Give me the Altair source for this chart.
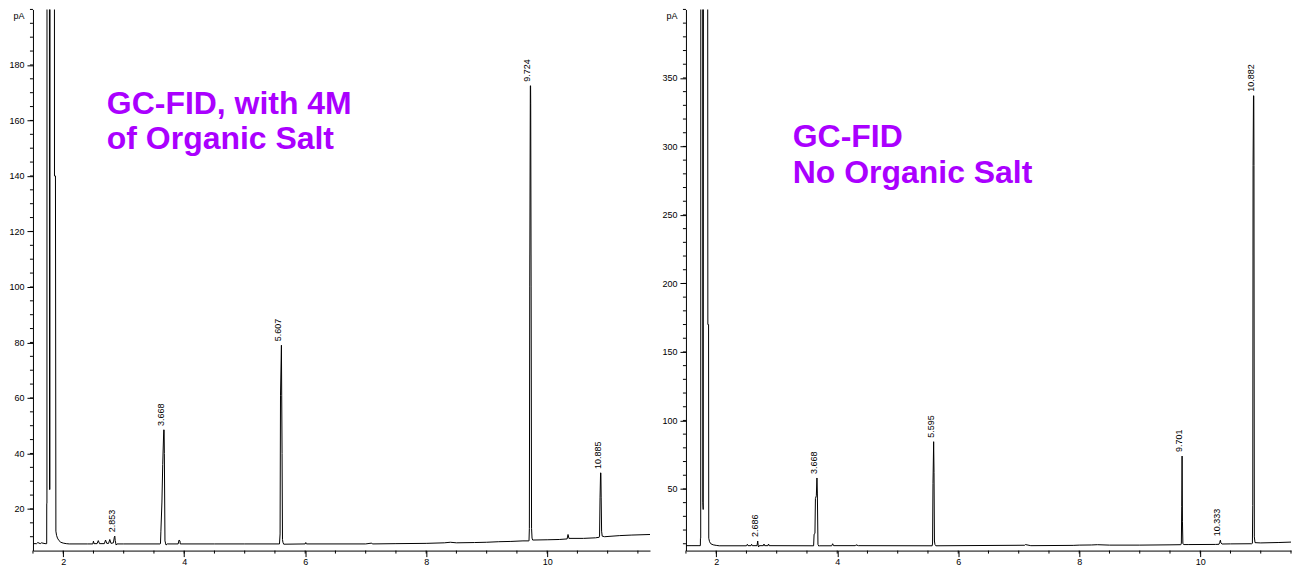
import altair as alt
import pandas as pd

# ---------------- Left chromatogram: GC-FID with 4M organic salt ----------------
L_TIME = [1.50, 1.56, 1.58, 1.62, 1.64, 1.70, 1.727, 1.728, 1.731, 1.733, 1.770, 1.774, 1.780, 1.785,
          1.852, 1.856, 1.872, 1.879, 1.890, 1.905, 1.930, 1.960, 2.000, 2.050, 2.100,
          2.400, 2.490, 2.500, 2.510, 2.560, 2.580, 2.600, 2.680, 2.700, 2.720, 2.750, 2.770, 2.790,
          2.830, 2.845, 2.853, 2.860, 2.875, 2.890, 3.000,
          3.600, 3.608, 3.615, 3.632, 3.645, 3.662, 3.668, 3.672, 3.682, 3.700, 3.720,
          3.900, 3.915, 3.930, 3.935, 4.500, 5.000,
          5.575, 5.585, 5.592, 5.607, 5.612, 5.618, 5.625, 5.632, 5.645,
          6.000, 6.010, 6.020, 7.000, 7.100, 7.110, 7.500, 8.000, 8.300, 8.400, 8.500, 8.800,
          9.000, 9.200, 9.400, 9.600, 9.690,
          9.700, 9.706, 9.712, 9.722, 9.726, 9.728, 9.735, 9.742, 9.750, 9.760,
          10.000, 10.200, 10.330, 10.345, 10.360, 10.600, 10.800, 10.860,
          10.866, 10.874, 10.883, 10.888, 10.893, 10.900, 10.910, 10.950,
          11.200, 11.400, 11.700]
L_PA = [7.5, 7.5, 7.9, 7.5, 7.8, 7.5, 7.5, 22.0, 22.0, 400.0, 400.0, 27.0, 27.0, 400.0,
        400.0, 140.0, 140.0, 12.0, 10.5, 9.5, 8.6, 8.0, 7.7, 7.5, 7.4,
        7.4, 7.4, 8.4, 7.5, 7.5, 8.6, 7.5, 7.5, 8.8, 7.6, 7.6, 9.0, 7.6,
        7.8, 9.8, 10.2, 8.6, 7.0, 7.4, 7.4,
        7.4, 7.5, 12.0, 22.5, 36.0, 48.5, 48.5, 40.0, 8.5, 7.0, 7.4,
        7.4, 8.8, 8.5, 7.4, 7.4, 7.4,
        7.4, 11.0, 61.0, 79.0, 61.0, 40.0, 9.0, 8.0, 7.3,
        7.4, 7.9, 7.4, 7.4, 7.7, 7.4, 7.5, 7.6, 7.8, 8.0, 7.8, 7.9,
        8.0, 8.2, 8.3, 8.5, 8.5,
        8.5, 13.0, 100.0, 172.5, 172.5, 166.0, 100.0, 13.0, 9.5, 8.8,
        8.9, 9.0, 9.2, 10.8, 9.4, 9.4, 9.6, 9.8,
        10.2, 24.0, 33.0, 33.0, 24.0, 12.0, 10.2, 10.0,
        10.4, 10.6, 10.8]
L_PEAK_TIME = [2.853, 3.668, 5.607, 9.724, 10.885]
L_PEAK_PA = [10.2, 48.5, 79.0, 172.5, 33.0]
L_PEAK_LABEL = ["2.853", "3.668", "5.607", "9.724", "10.885"]
L_TITLE = ["GC-FID, with 4M", "of Organic Salt"]

# ---------------- Right chromatogram: GC-FID, no organic salt ----------------
R_TIME = [1.50, 1.600, 1.700, 1.738, 1.740, 1.744, 1.746, 1.776, 1.779, 1.785, 1.790,
          1.858, 1.862, 1.874, 1.877, 1.890, 1.910, 1.950, 2.000, 2.050,
          2.500, 2.515, 2.525, 2.575, 2.585, 2.595, 2.675, 2.686, 2.695, 2.700, 2.710,
          2.780, 2.790, 2.800, 2.855, 2.865, 2.875,
          3.610, 3.618, 3.632, 3.640, 3.655, 3.665, 3.672, 3.682, 3.695, 3.710,
          3.910, 3.925, 3.940, 4.300, 4.310, 4.350,
          5.570, 5.576, 5.583, 5.594, 5.600, 5.607, 5.615, 5.630,
          7.100, 7.110, 7.200, 7.900, 8.000, 8.200, 8.300, 8.500, 9.000, 9.500, 9.670,
          9.680, 9.688, 9.694, 9.700, 9.706, 9.713, 9.730, 9.800, 10.250,
          10.310, 10.322, 10.333, 10.342, 10.360, 10.500, 10.850,
          10.862, 10.868, 10.873, 10.880, 10.885, 10.888, 10.894, 10.905,
          11.000, 11.300, 11.500, 11.650]
R_PA = [8.6, 8.6, 8.6, 8.6, 14.0, 14.0, 600.0, 600.0, 40.0, 35.0, 600.0,
        600.0, 170.0, 170.0, 14.0, 11.5, 10.0, 9.2, 8.8, 8.5,
        8.5, 9.6, 8.6, 8.6, 9.6, 8.6, 8.6, 12.0, 8.5, 7.6, 8.6,
        8.6, 9.8, 8.6, 8.6, 9.8, 8.6,
        8.5, 17.0, 17.5, 43.0, 45.0, 58.0, 47.0, 9.5, 8.3, 8.5,
        8.5, 10.0, 8.6, 8.6, 9.2, 8.6,
        8.5, 10.5, 54.0, 84.5, 62.0, 12.0, 9.5, 8.5,
        8.9, 9.4, 8.6, 8.8, 9.0, 9.1, 9.3, 9.0, 9.0, 9.2, 9.3,
        9.3, 10.5, 37.0, 74.0, 26.0, 10.0, 9.4, 9.4, 9.5,
        9.6, 11.0, 12.6, 10.5, 9.8, 9.9, 10.0,
        10.3, 38.0, 286.0, 337.0, 337.0, 286.0, 15.0, 10.8,
        10.6, 10.9, 11.2, 11.3]
R_PEAK_TIME = [2.686, 3.668, 5.595, 9.701, 10.333, 10.882]
R_PEAK_PA = [12.0, 58.0, 84.5, 74.0, 12.6, 337.0]
R_PEAK_LABEL = ["2.686", "3.668", "5.595", "9.701", "10.333", "10.882"]
R_TITLE = ["GC-FID", "No Organic Salt"]

# axis ticks
X_MAJOR = [2, 4, 6, 8, 10]
X_MINOR = [1.5 + 0.5 * i for i in range(21)]
Y_MAJOR_L = [20, 40, 60, 80, 100, 120, 140, 160, 180]
Y_MINOR_L = list(range(10, 205, 5))
Y_MAJOR_R = [50, 100, 150, 200, 250, 300, 350]
Y_MINOR_R = list(range(10, 410, 10))

PURPLE = "#AA00FF"
FONT = "Liberation Sans"
H = 542


def panel(times, pa, pk_t, pk_h, pk_lab, titles, title_pos, xdom, ydom,
          ymajor, yminor, width):
    df = pd.DataFrame({"t": times, "pa": pa, "i": list(range(len(times)))})
    pk = pd.DataFrame({"t": pk_t, "pa": pk_h, "lab": pk_lab})
    xs = alt.Scale(domain=xdom, nice=False, zero=False)
    ys = alt.Scale(domain=ydom, nice=False, zero=False)
    xaxis = alt.Axis(values=X_MAJOR, title=None, grid=False, tickSize=6,
                     labelFlush=False, labelOverlap=False, labelPadding=1)
    yaxis = alt.Axis(
        values=ymajor, grid=False, tickSize=6,
        labelFlush=False, labelOverlap=False, labelPadding=3,
        title="pA", titleAngle=0, titleX=-9, titleY=6, titleAlign="right",
        titleBaseline="middle", titleFontWeight="normal", titleFontSize=9, titleFont=FONT,
    )
    line = alt.Chart(df).mark_line(color="black", strokeWidth=1, clip=True).encode(
        x=alt.X("t:Q", scale=xs, axis=xaxis),
        y=alt.Y("pa:Q", scale=ys, axis=yaxis),
        order=alt.Order("i:Q"),
    )
    xmin = alt.Chart(pd.DataFrame({"v": [v for v in X_MINOR if xdom[0] <= v <= xdom[1]]})).mark_rule(
        color="black", strokeWidth=1
    ).encode(x=alt.X("v:Q", scale=xs, axis=xaxis), y=alt.value(H), y2=alt.value(H + 3))
    ymin = alt.Chart(pd.DataFrame({"v": [v for v in yminor if ydom[0] <= v <= ydom[1]]})).mark_rule(
        color="black", strokeWidth=1
    ).encode(y=alt.Y("v:Q", scale=ys, axis=yaxis), x=alt.value(-3), x2=alt.value(0))
    labels = alt.Chart(pk).mark_text(
        angle=270, align="left", baseline="middle", dx=4, dy=-3,
        fontSize=9, font=FONT, color="black",
    ).encode(x=alt.X("t:Q", scale=xs, axis=xaxis), y=alt.Y("pa:Q", scale=ys, axis=yaxis),
             text="lab:N")
    layers = [line, xmin, ymin, labels]
    for txt, (px, py) in zip(titles, title_pos):
        layers.append(
            alt.Chart(alt.Data(values=[{}])).mark_text(
                text=txt, align="left", baseline="alphabetic", font=FONT,
                fontSize=32, fontWeight="bold", color=PURPLE,
            ).encode(x=alt.value(px), y=alt.value(py))
        )
    return alt.layer(*layers).properties(width=width, height=H)


left = panel(L_TIME, L_PA, L_PEAK_TIME, L_PEAK_PA, L_PEAK_LABEL, L_TITLE,
             [(74, 105), (74, 140)], [1.5, 11.7], [5, 200], Y_MAJOR_L, Y_MINOR_L, 618)
right = panel(R_TIME, R_PA, R_PEAK_TIME, R_PEAK_PA, R_PEAK_LABEL, R_TITLE,
              [(107, 138), (107, 174)], [1.5, 11.5], [5, 400], Y_MAJOR_R, Y_MINOR_R, 606)

chart = alt.hconcat(left, right, spacing=11).properties(padding=0).configure_view(
    stroke=None
).configure_axis(
    domainColor="black", tickColor="black", labelColor="black",
    labelFont=FONT, labelFontSize=9, domainWidth=1, tickWidth=1,
)

chart.save("out.html", embed_options={"renderer": "svg", "actions": False})
